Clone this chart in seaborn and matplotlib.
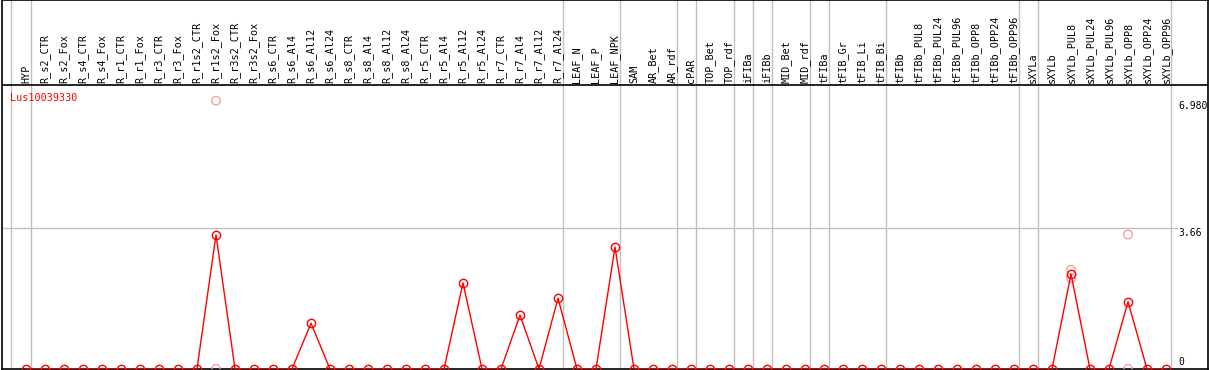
import matplotlib
matplotlib.use("Agg")
import matplotlib.pyplot as plt
import seaborn as sns
import pandas as pd

categories = ["HYP", "R_s2_CTR", "R_s2_Fox", "R_s4_CTR", "R_s4_Fox", "R_r1_CTR", "R_r1_Fox",
              "R_r3_CTR", "R_r3_Fox", "R_r1s2_CTR", "R_r1s2_Fox", "R_r3s2_CTR", "R_r3s2_Fox",
              "R_s6_CTR", "R_s6_Al4", "R_s6_Al12", "R_s6_Al24", "R_s8_CTR", "R_s8_Al4",
              "R_s8_Al12", "R_s8_Al24", "R_r5_CTR", "R_r5_Al4", "R_r5_Al12", "R_r5_Al24",
              "R_r7_CTR", "R_r7_Al4", "R_r7_Al12", "R_r7_Al24", "LEAF_N", "LEAF_P", "LEAF_NPK",
              "SAM", "AR_Bet", "AR_rdf", "cPAR", "TOP_Bet", "TOP_rdf", "iFIBa", "iFIBb",
              "MID_Bet", "MID_rdf", "tFIBa", "tFIB_Gr", "tFIB_Li", "tFIB_Bi", "tFIBb",
              "tFIBb_PUL8", "tFIBb_PUL24", "tFIBb_PUL96", "tFIBb_OPP8", "tFIBb_OPP24",
              "tFIBb_OPP96", "sXYLa", "sXYLb", "sXYLb_PUL8", "sXYLb_PUL24", "sXYLb_PUL96",
              "sXYLb_OPP8", "sXYLb_OPP24", "sXYLb_OPP96"]

mean_values = [0, 0, 0, 0, 0, 0, 0, 0, 0, 0, 3.49, 0, 0,
               0, 0, 1.19, 0, 0, 0, 0, 0, 0, 0, 2.24, 0,
               0, 1.40, 0, 1.84, 0, 0, 3.17,
               0, 0, 0, 0, 0, 0, 0, 0, 0, 0, 0, 0, 0, 0, 0,
               0, 0, 0, 0, 0, 0,
               0, 0, 2.47, 0, 0, 1.75, 0, 0]

# individual replicate values that are visible apart from the mean
replicate_cats = ["R_r1s2_Fox", "R_r1s2_Fox", "sXYLb_PUL8", "sXYLb_PUL8", "sXYLb_OPP8", "sXYLb_OPP8"]
replicate_vals = [6.98, 0.0, 2.58, 2.36, 3.50, 0.0]

group_ends = ["HYP", "R_r7_Al24", "LEAF_NPK", "AR_rdf", "cPAR", "TOP_rdf", "iFIBa", "iFIBb",
              "MID_rdf", "tFIBa", "tFIB_Bi", "tFIBb_OPP96", "sXYLa", "sXYLb_OPP96"]

title = "Lus10039330"
y_max_label = "6.980"
y_mid_value = 3.66
y_mid_label = "3.66"

RED = "#ff0000"
PALE = "#f2a0a0"
GRID = "#c0c0c0"

sns.set_theme(style="white")
plt.rcParams["font.family"] = ["DejaVu Sans Mono", "DejaVu Sans"]

W, H = 1209, 370
fig = plt.figure(figsize=(W / 100, H / 100), dpi=100)
ax = fig.add_axes([2 / W, 1 / H, 1206 / W, 369 / H])

idx = {c: i for i, c in enumerate(categories)}
df = pd.DataFrame({"x": range(len(categories)), "y": mean_values})
rep = pd.DataFrame({"x": [idx[c] for c in replicate_cats], "y": replicate_vals})

# group separators
for g in group_ends:
    ax.axvline(idx[g] + 0.26, color=GRID, lw=1.0, zorder=1)
ax.axvline(-0.79, color=GRID, lw=1.0, zorder=1)

px_per_unit = 38.44
ax.set_xlim(-1.263, 62.21)
ax.set_ylim(0, 369 / px_per_unit)
sep = (369 - 85) / px_per_unit

ax.axhline(y_mid_value, xmin=0, xmax=0.974, color=GRID, lw=1.0, zorder=1)
ax.axhline(sep, color="black", lw=1.2, zorder=3)

sns.scatterplot(data=rep, x="x", y="y", ax=ax, marker="o", s=38, facecolors="none",
                edgecolor=PALE, linewidth=1.0, zorder=4, legend=False)
sns.lineplot(data=df, x="x", y="y", ax=ax, color=RED, lw=1.0, marker="o", markersize=6,
             markerfacecolor="none", markeredgecolor=RED, markeredgewidth=1.0, zorder=5,
             legend=False)

for c, i in idx.items():
    ax.text(i, sep + 2 / px_per_unit, c, rotation=90, ha="center", va="bottom",
            fontsize=7.3, color="black")

ax.text(-0.84, sep - 13 / px_per_unit, title, color=RED, fontsize=7.3, ha="left", va="center")

xl = 60.63
ax.text(xl, 6.98, y_max_label, fontsize=7.0, ha="left", va="top", color="black")
ax.text(xl, y_mid_value, y_mid_label, fontsize=7.0, ha="left", va="top", color="black")
ax.text(xl, 0.05, "0", fontsize=7.0, ha="left", va="bottom", color="black")

ax.set_xticks([])
ax.set_yticks([])
ax.set_xlabel("")
ax.set_ylabel("")
for s in ax.spines.values():
    s.set_visible(True)
    s.set_color("black")
    s.set_linewidth(1.2)

fig.savefig("out.png", dpi=100, facecolor="white")
